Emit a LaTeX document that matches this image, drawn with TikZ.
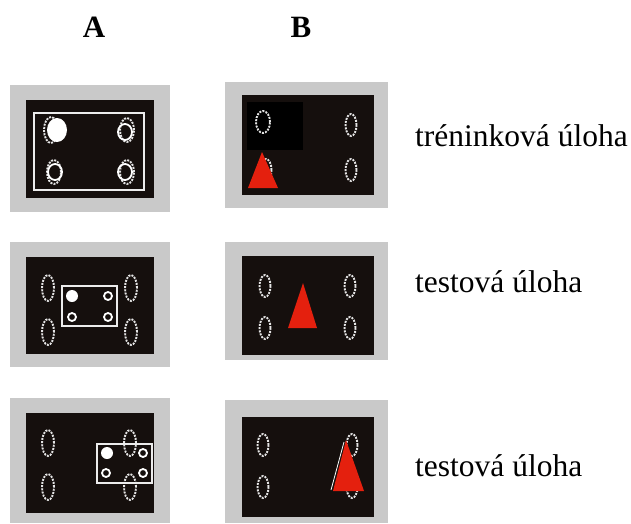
\documentclass[tikz,border=0pt]{standalone}
\usepackage{fontspec}
\setmainfont{Liberation Serif}
\begin{document}
\begin{tikzpicture}[x=1pt,y=-1pt,
  frame/.style={fill=panelgray,draw=none},
  screen/.style={fill=screenblack,draw=none},
  dring/.style={draw=white!80!gray,line width=1.9pt,dash pattern=on 2pt off 1.2pt},
  sring/.style={draw=white,line width=1.8pt},
  wbox/.style={draw=white!85!gray,line width=1.9pt},
  cone/.style={fill=conered,draw=none},
  lab/.style={anchor=base west,inner sep=0pt,font=\fontsize{31.5}{36}\selectfont},
  head/.style={anchor=base,inner sep=0pt,font=\fontsize{31}{36}\selectfont\bfseries}]
\definecolor{panelgray}{HTML}{C9C9C9}
\definecolor{screenblack}{HTML}{150F0D}
\definecolor{conered}{HTML}{E4200E}
\useasboundingbox (0,0) rectangle (631,524);
\fill[white] (0,0) rectangle (631,524);

% headings
\node[head] (hA) at (94,38) {A};
\node[head] (hB) at (301,38) {B};

% labels
\node[lab] (l1) at (415,146) {tréninková úloha};
\node[lab] (l2) at (415,292) {testová úloha};
\node[lab] (l3) at (415,476) {testová úloha};

% ---------- A1 ----------
\fill[frame] (10,85) rectangle (170,212);
\fill[screen] (26,100) rectangle (154,198);
\draw[wbox] (34,113) rectangle (144,190);
\draw[dring] (51,130) ellipse [x radius=7pt,y radius=13pt];
\fill[white] (57,130) ellipse [x radius=10pt,y radius=12pt];
\draw[dring] (127,130) ellipse [x radius=7pt,y radius=12pt];
\draw[sring] (125,132) ellipse [x radius=7pt,y radius=8pt];
\draw[dring] (54,172) ellipse [x radius=7pt,y radius=12pt];
\draw[sring] (55,172) ellipse [x radius=7pt,y radius=8pt];
\draw[dring] (127,172) ellipse [x radius=7pt,y radius=12pt];
\draw[sring] (125,172) ellipse [x radius=7pt,y radius=8pt];

% ---------- B1 ----------
\fill[frame] (225,82) rectangle (388,208);
\fill[screen] (242,95) rectangle (374,195);
\fill[black] (247,102) rectangle (303,150);
\draw[dring] (263,122) ellipse [x radius=7pt,y radius=11pt];
\draw[dring] (351,125) ellipse [x radius=5.5pt,y radius=11pt];
\draw[dring] (351,170) ellipse [x radius=5.5pt,y radius=11pt];
\draw[dring] (266,170) ellipse [x radius=5.5pt,y radius=11pt];
\fill[cone] (262,152) -- (248,188) -- (278,188) -- cycle;

% ---------- A2 ----------
\fill[frame] (10,242) rectangle (170,367);
\fill[screen] (26,257) rectangle (154,354);
\draw[dring] (48,288) ellipse [x radius=6pt,y radius=13pt];
\draw[dring] (48,332) ellipse [x radius=6pt,y radius=13pt];
\draw[dring] (131,288) ellipse [x radius=6pt,y radius=13pt];
\draw[dring] (131,332) ellipse [x radius=6pt,y radius=13pt];
\draw[wbox] (62,286) rectangle (117,326);
\fill[white] (72,296) circle [radius=6pt];
\draw[sring] (108,296) circle [radius=4pt];
\draw[sring] (72,317) circle [radius=4pt];
\draw[sring] (108,317) circle [radius=4pt];

% ---------- B2 ----------
\fill[frame] (225,242) rectangle (388,360);
\fill[screen] (242,256) rectangle (374,355);
\draw[dring] (265,286) ellipse [x radius=5.5pt,y radius=11pt];
\draw[dring] (265,328) ellipse [x radius=5.5pt,y radius=11pt];
\draw[dring] (350,286) ellipse [x radius=5.5pt,y radius=11pt];
\draw[dring] (350,328) ellipse [x radius=5.5pt,y radius=11pt];
\fill[cone] (303,283) -- (288,328) -- (317,328) -- cycle;

% ---------- A3 ----------
\fill[frame] (10,398) rectangle (170,523);
\fill[screen] (26,413) rectangle (154,513);
\draw[dring] (48,443) ellipse [x radius=6pt,y radius=13pt];
\draw[dring] (48,487) ellipse [x radius=6pt,y radius=13pt];
\draw[dring] (130,443) ellipse [x radius=6pt,y radius=13pt];
\draw[dring] (130,487) ellipse [x radius=6pt,y radius=13pt];
\draw[wbox] (97,444) rectangle (152,483);
\fill[white] (107,453) circle [radius=6pt];
\draw[sring] (143,453) circle [radius=4pt];
\draw[sring] (106,473) circle [radius=4pt];
\draw[sring] (143,473) circle [radius=4pt];

% ---------- B3 ----------
\fill[frame] (225,400) rectangle (388,523);
\fill[screen] (242,417) rectangle (374,517);
\draw[dring] (263,445) ellipse [x radius=5.5pt,y radius=11pt];
\draw[dring] (263,487) ellipse [x radius=5.5pt,y radius=11pt];
\draw[dring] (352,445) ellipse [x radius=5.5pt,y radius=11pt];
\draw[dring] (352,487) ellipse [x radius=5.5pt,y radius=11pt];
\draw[white,line width=0.8pt] (344,442) -- (331,490);
\fill[cone] (346,440) -- (333,491) -- (364,491) -- cycle;
\end{tikzpicture}
\end{document}
